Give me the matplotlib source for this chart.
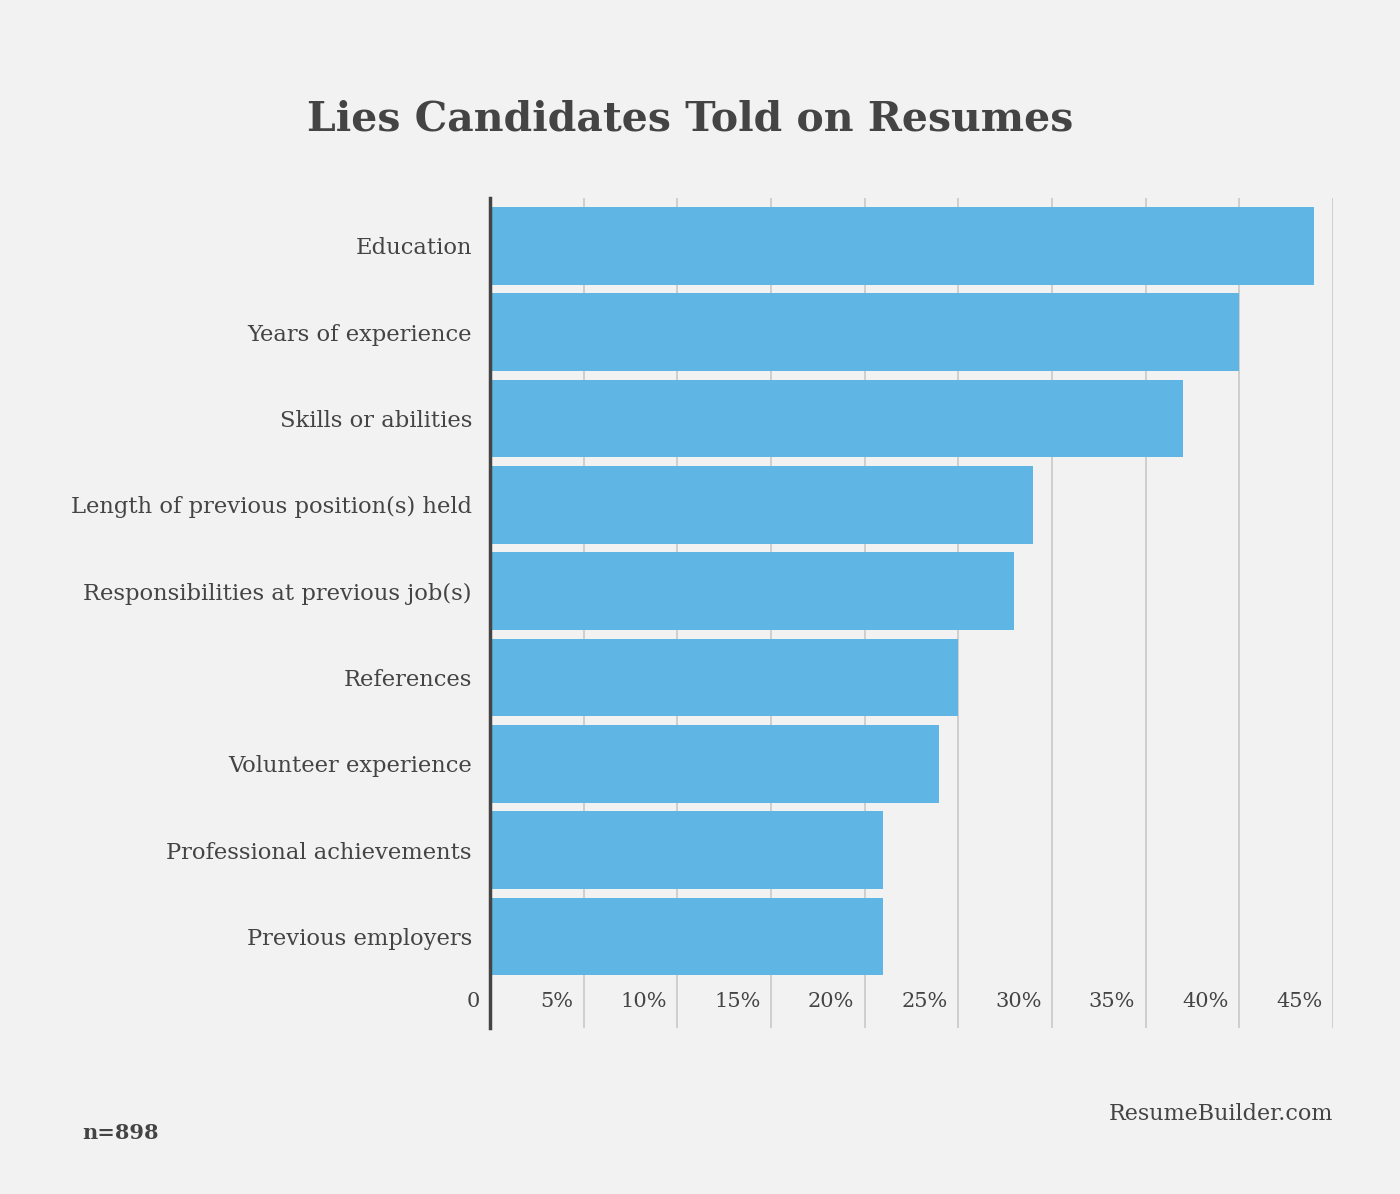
import matplotlib
matplotlib.use('Agg')
import matplotlib.pyplot as plt
import matplotlib.transforms as mtransforms

categorias = ['Education', 'Years of experience', 'Skills or abilities',
              'Length of previous position(s) held', 'Responsibilities at previous job(s)',
              'References', 'Volunteer experience', 'Professional achievements',
              'Previous employers']
valores = [44, 40, 37, 29, 28, 25, 24, 21, 21]
ticks = [0, 5, 10, 15, 20, 25, 30, 35, 40, 45]
tick_labels = ['0', '5%', '10%', '15%', '20%', '25%', '30%', '35%', '40%', '45%']

fundo = '#f2f2f2'
azul = '#5fb5e3'
texto = '#444444'
plt.rcParams['font.family'] = ['DejaVu Serif']

fig = plt.figure(figsize=(14, 11.94), dpi=100, facecolor=fundo)
ax = fig.add_axes([0.35, 0.139, 0.602, 0.695])
ax.set_facecolor(fundo)

y = list(range(len(categorias)))
ax.barh(y, valores, height=0.9, color=azul, zorder=3)
ax.set_xlim(0, 45)
ax.set_ylim(9.06, -0.55)

for t in ticks[1:]:
    ax.axvline(t, color='#cccccc', lw=1.3, zorder=1)
ax.axvline(0, color='#444444', lw=2.5, zorder=4, clip_on=False)

trans = mtransforms.blended_transform_factory(ax.transData, ax.transAxes)
for t, lab in zip(ticks, tick_labels):
    ax.text(t - 0.55, 0.02, lab, transform=trans, ha='right', va='bottom',
            fontsize=15, color=texto)

ax.set_yticks(y)
ax.set_yticklabels(categorias, fontsize=16.3, color=texto)
ax.tick_params(axis='y', length=0, pad=13)
ax.set_xticks([])
for s in ax.spines.values():
    s.set_visible(False)

fig.text(0.493, 0.9, 'Lies Candidates Told on Resumes', ha='center', va='center',
         fontsize=29.5, fontweight='bold', color=texto)
fig.text(0.059, 0.051, 'n=898', ha='left', va='center', fontsize=15,
         fontweight='bold', color=texto)
fig.text(0.952, 0.067, 'ResumeBuilder.com', ha='right', va='center', fontsize=16,
         color=texto)

fig.savefig('out.png', dpi=100, facecolor=fundo)
